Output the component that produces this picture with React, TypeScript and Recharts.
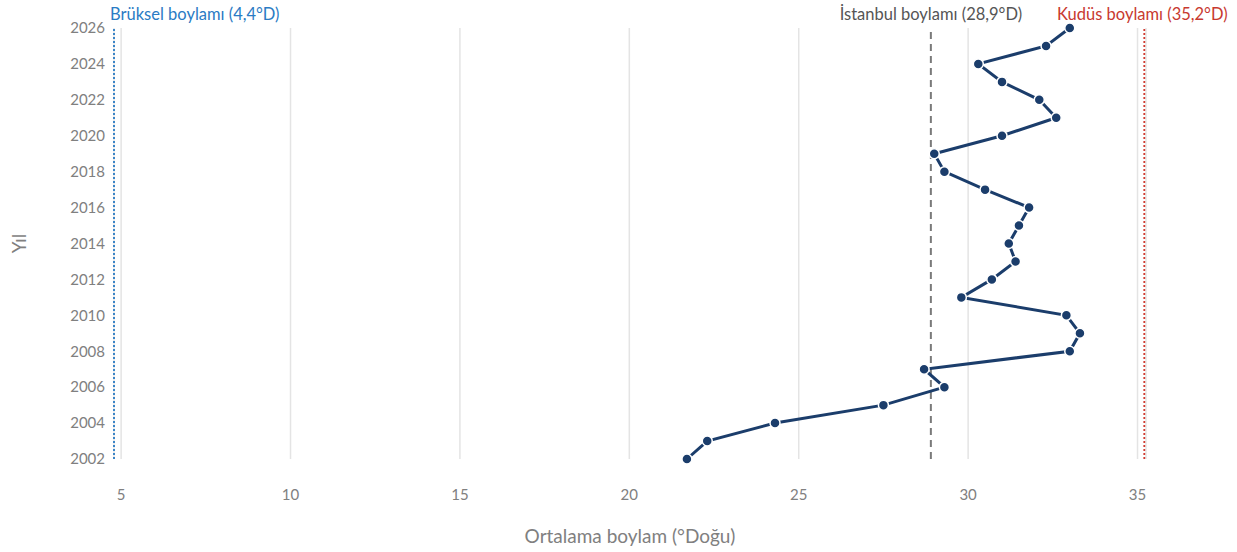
import React from 'react'
import { ScatterChart, Scatter, XAxis, YAxis, CartesianGrid, ReferenceLine, Label } from 'recharts'

const years = [2002, 2003, 2004, 2005, 2006, 2007, 2008, 2009, 2010, 2011, 2012, 2013, 2014, 2015, 2016, 2017, 2018, 2019, 2020, 2021, 2022, 2023, 2024, 2025, 2026]
const longitudes = [21.7, 22.3, 24.3, 27.5, 29.3, 28.7, 33.0, 33.3, 32.9, 29.8, 30.7, 31.4, 31.2, 31.5, 31.8, 30.5, 29.3, 29.0, 31.0, 32.6, 32.1, 31.0, 30.3, 32.3, 33.0]
const xTicks = [5, 10, 15, 20, 25, 30, 35]
const yTicks = [2002, 2004, 2006, 2008, 2010, 2012, 2014, 2016, 2018, 2020, 2022, 2024, 2026]

const refLines = [
 { name: 'Brüksel boylamı (4,4°D)', value: 4.4, color: '#2a7bc4', lineColor: '#2a7bc4', dash: '2 2', anchor: 'start', shift: -4 },
 { name: 'İstanbul boylamı (28,9°D)', value: 28.9, color: '#555555', lineColor: '#7a7a7a', dash: '7 5', anchor: 'middle', shift: 0 },
 { name: 'Kudüs boylamı (35,2°D)', value: 35.2, color: '#c8392f', lineColor: '#d03a30', dash: '2 2', anchor: 'middle', shift: -2 },
]

const X_MIN = 4.79
const X_MAX = 35.25

const data = years.map((year, i) => ({ year, lon: longitudes[i] }))

const FONT = 'Lato, "Open Sans", sans-serif'
const NAVY = '#1b3d6b'

function RefLabel({ viewBox, text, color, anchor, shift }: any) {
 return (
 <text x={viewBox.x + shift} y={20} fill={color} fontSize={16.5} fontFamily={FONT} textAnchor={anchor}>
 {text}
 </text>
 )
}

function YTitle({ viewBox }: any) {
 const cy = viewBox.y + viewBox.height / 2
 return (
 <text x={18} y={cy} transform={`rotate(-90 18 ${cy})`} textAnchor="middle" dominantBaseline="central" fill="#808080" fontSize={19} fontFamily={FONT}>
 Yıl
 </text>
 )
}

function Dot({ cx, cy }: any) {
 return <circle cx={cx} cy={cy} r={5} fill={NAVY} stroke="#ffffff" strokeWidth={1.5} />
}

export default function App() {
 return (
 <div style={{ width: 1237, height: 552 }}>
 <style>{'body{margin:0}'}</style>
 <ScatterChart width={1237} height={552} margin={{ top: 28, right: 91, bottom: 0, left: 0 }} style={{ fontFamily: FONT }}>
 <CartesianGrid horizontal={false} stroke="#e4e4e4" strokeWidth={1.5} />
 <XAxis
 type="number"
 dataKey="lon"
 domain={[X_MIN, X_MAX]}
 ticks={xTicks}
 allowDataOverflow
 axisLine={false}
 tickLine={false}
 tickSize={0}
 tickMargin={30}
 height={93}
 tick={{ fill: '#808080', fontSize: 15 }}
 >
 <Label value="Ortalama boylam (°Doğu)" position="insideBottom" offset={9} fill="#808080" fontSize={19} />
 </XAxis>
 <YAxis
 type="number"
 dataKey="year"
 domain={[2002, 2026]}
 ticks={yTicks}
 axisLine={false}
 tickLine={false}
 tickSize={0}
 tickMargin={9}
 width={114}
 tick={{ fill: '#808080', fontSize: 15 }}
 >
 <Label content={<YTitle />} />
 </YAxis>
 {refLines.map((r) => (
 <ReferenceLine
 key={r.name}
 x={Math.max(r.value, X_MIN)}
 stroke={r.lineColor}
 strokeWidth={r.value === 28.9 ? 2 : 1.8}
 strokeDasharray={r.dash}
 ifOverflow="visible"
 label={<RefLabel text={r.name} color={r.color} anchor={r.anchor} shift={r.shift} />}
 />
 ))}
 <Scatter
 data={data}
 fill={NAVY}
 line={{ stroke: NAVY, strokeWidth: 3 }}
 shape={<Dot />}
 isAnimationActive={false}
 />
 </ScatterChart>
 </div>
 )
}
